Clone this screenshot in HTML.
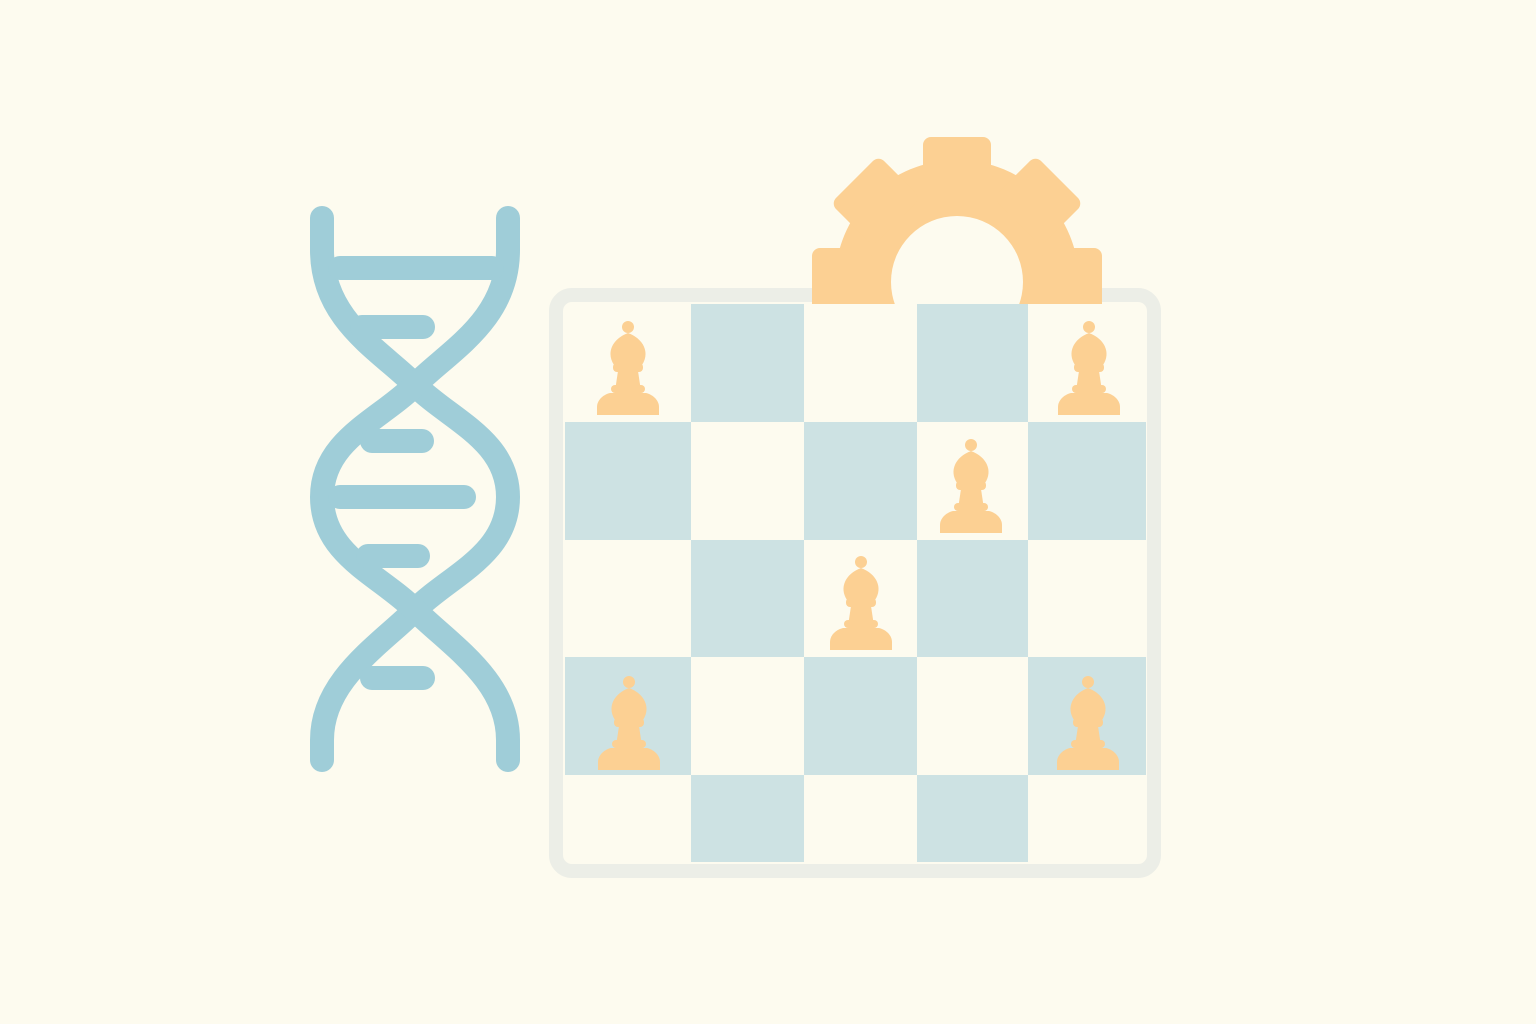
<!DOCTYPE html>
<html><head><meta charset="utf-8"><style>
html,body{margin:0;padding:0;background:#fdfbef;}
svg{display:block}
</style></head><body>
<svg width="1536" height="1024" viewBox="0 0 1536 1024">
<defs>
<g id="piece">
<circle cx="0" cy="-42" r="6"/>
<path d="M0,-36 C-16,-30 -22,-16 -14,-4 L14,-4 C22,-16 16,-30 0,-36 Z"/>
<rect x="-15" y="-6" width="30" height="9" rx="4"/>
<path d="M-10,2 L10,2 L13,22 L-13,22 Z"/>
<rect x="-17" y="16" width="34" height="8" rx="4"/>
<path d="M-18,24 L18,24 C26,26 31,32 31,38 L31,46 L-31,46 L-31,38 C-31,32 -26,26 -18,24 Z"/>
</g>
<clipPath id="gclip"><rect x="0" y="0" width="1536" height="304"/></clipPath>
</defs>
<rect width="1536" height="1024" fill="#fdfbef"/>

<g>
<rect x="556" y="295" width="598" height="576" rx="16" fill="#fdfbef" stroke="#eceee7" stroke-width="14"/>
<g fill="#cde2e3">
<rect x="691" y="304" width="113" height="118"/>
<rect x="917" y="304" width="111" height="118"/>
<rect x="565" y="422" width="126" height="118"/>
<rect x="804" y="422" width="113" height="118"/>
<rect x="1028" y="422" width="118" height="118"/>
<rect x="691" y="540" width="113" height="117"/>
<rect x="917" y="540" width="111" height="117"/>
<rect x="565" y="657" width="126" height="118"/>
<rect x="804" y="657" width="113" height="118"/>
<rect x="1028" y="657" width="118" height="118"/>
<rect x="691" y="775" width="113" height="87"/>
<rect x="917" y="775" width="111" height="87"/>
</g>
</g>

<g fill="#fcd093" clip-path="url(#gclip)">
<circle cx="957" cy="282" r="122"/>
<rect x="923" y="137" width="68" height="60" rx="8" transform="rotate(0 957 282)"/>
<rect x="923" y="137" width="68" height="60" rx="8" transform="rotate(45 957 282)"/>
<rect x="923" y="137" width="68" height="60" rx="8" transform="rotate(-45 957 282)"/>
<rect x="923" y="137" width="68" height="60" rx="8" transform="rotate(90 957 282)"/>
<rect x="923" y="137" width="68" height="60" rx="8" transform="rotate(-90 957 282)"/>
<circle cx="957" cy="282" r="66" fill="#fdfbef"/>
</g>

<g fill="#fcd093">
<use href="#piece" x="628" y="369"/>
<use href="#piece" x="1089" y="369"/>
<use href="#piece" x="971" y="487"/>
<use href="#piece" x="861" y="604"/>
<use href="#piece" x="629" y="724"/>
<use href="#piece" x="1088" y="724"/>
</g>

<g fill="none" stroke="#9fcdd8" stroke-width="24" stroke-linecap="round">
<path d="M322,218 L322,250 C322,320 380,350 415,385 C450,420 508,440 508,497 C508,555 450,575 415,610 C380,645 322,680 322,740 L322,760"/>
<path d="M508,218 L508,250 C508,320 450,350 415,385 C380,420 322,440 322,497 C322,555 380,575 415,610 C450,645 508,680 508,740 L508,760"/>
<path d="M340,268 L492,268"/>
<path d="M362,327 L423,327"/>
<path d="M372,441 L422,441"/>
<path d="M340,497 L464,497"/>
<path d="M368,556 L418,556"/>
<path d="M372,678 L423,678"/>
</g>
</svg>
</body></html>
